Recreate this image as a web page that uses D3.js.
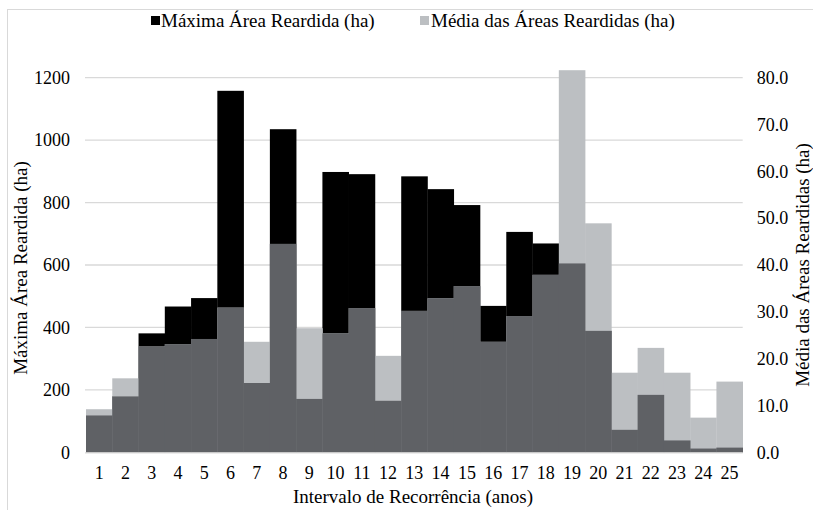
<!DOCTYPE html>
<html><head><meta charset="utf-8">
<script src="https://cdn.jsdelivr.net/npm/d3@7"></script>
<style>body{margin:0;background:#fff}svg{display:block}svg text{font-family:"Liberation Serif","Times New Roman","DejaVu Serif",serif !important;fill:#000}</style>
</head><body><div id="chart"></div>
<script>
const categories = ["1","2","3","4","5","6","7","8","9","10","11","12","13","14","15","16","17","18","19","20","21","22","23","24","25"];
const maxArea = [118,179,381,467,494,1158,222,1035,171,898,891,165,884,843,792,469,706,669,605,389,72,184,38,12,15];
const meanArea = [9.2,15.8,22.6,23.1,24.2,30.9,23.6,44.5,26.5,25.4,30.8,20.6,30.2,32.9,35.5,23.6,29.1,37.9,81.6,48.9,17.0,22.3,17.0,7.4,15.1];
const leftTicks = [0,200,400,600,800,1000,1200];
const rightTicks = [0,10,20,30,40,50,60,70,80];
const seriesNames = ["Máxima Área Reardida (ha)","Média das Áreas Reardidas (ha)"];

const W = 813, H = 510;
const m = {left:86, right:813-742.7, top:77.7, bottom:510-452.3};
const svg = d3.select("#chart").append("svg").attr("width",W).attr("height",H);

svg.append("rect").attr("x",7.5).attr("y",9.5).attr("width",W+10).attr("height",H+10)
  .attr("fill","none").attr("stroke","#d9d9d9");

const x = d3.scaleBand().domain(categories).range([m.left, W-m.right]).padding(0);
const yL = d3.scaleLinear().domain([0,1200]).range([H-m.bottom, m.top]);
const yR = d3.scaleLinear().domain([0,80]).range([H-m.bottom, m.top]);

svg.append("g").selectAll("line").data(leftTicks.slice(1)).join("line")
  .attr("x1",m.left-1).attr("x2",W-m.right).attr("y1",d=>yL(d)).attr("y2",d=>yL(d))
  .attr("stroke","#d9d9d9").attr("stroke-width",1.3);

const data = categories.map((c,i)=>({c, a:maxArea[i], b:meanArea[i]}));
const base = yL(0);
const g = svg.append("g");
g.selectAll(".blk").data(data).join("rect")
  .attr("x",d=>x(d.c)).attr("width",x.bandwidth()+0.3)
  .attr("y",d=>yL(d.a)).attr("height",d=>base-yL(d.a)).attr("fill","#000");
g.selectAll(".lg").data(data).join("rect")
  .attr("x",d=>x(d.c)).attr("width",x.bandwidth()+0.3)
  .attr("y",d=>yR(d.b)).attr("height",d=>base-yR(d.b)).attr("fill","#bcbfc2");
g.selectAll(".dg").data(data).join("rect")
  .attr("x",d=>x(d.c)).attr("width",x.bandwidth()+0.3)
  .attr("y",d=>Math.max(yL(d.a),yR(d.b))).attr("height",d=>base-Math.max(yL(d.a),yR(d.b))).attr("fill","#5f6165");

svg.append("line").attr("x1",m.left-1).attr("x2",W-m.right).attr("y1",base+0.5).attr("y2",base+0.5)
  .attr("stroke","#d9d9d9").attr("stroke-width",1.3);

const axL = d3.axisLeft(yL).tickValues(leftTicks).tickSize(0).tickPadding(16).tickFormat(d3.format("d"));
const gL = svg.append("g").attr("transform",`translate(${m.left},0)`).call(axL);
const axR = d3.axisRight(yR).tickValues(rightTicks).tickSize(0).tickPadding(14).tickFormat(d3.format(".1f"));
const gR = svg.append("g").attr("transform",`translate(${W-m.right},0)`).call(axR);
const axB = d3.axisBottom(x).tickSize(0).tickPadding(14);
const gB = svg.append("g").attr("transform",`translate(0,${base})`).call(axB);
[gL,gR,gB].forEach(a=>{a.attr("font-family",null).attr("font-size",null); a.select(".domain").remove(); a.selectAll("text").style("font-size","18px").attr("fill","#000");});

svg.append("text").attr("transform",`translate(27,268) rotate(-90)`).attr("text-anchor","middle")
  .style("font-size","19px").text(seriesNames[0]);
svg.append("text").attr("transform",`translate(809,265) rotate(-90)`).attr("text-anchor","middle")
  .style("font-size","19px").text(seriesNames[1]);
svg.append("text").attr("x",413).attr("y",503).attr("text-anchor","middle")
  .style("font-size","19px").text("Intervalo de Recorrência (anos)");

const lg = svg.append("g");
lg.append("rect").attr("x",151).attr("y",16).attr("width",9).attr("height",9).attr("fill","#000");
lg.append("text").attr("x",161).attr("y",27).style("font-size","19px").text(seriesNames[0]);
lg.append("rect").attr("x",420).attr("y",16).attr("width",9).attr("height",9).attr("fill","#bcbfc2");
lg.append("text").attr("x",431).attr("y",27).style("font-size","19px").text(seriesNames[1]);
</script></body></html>
